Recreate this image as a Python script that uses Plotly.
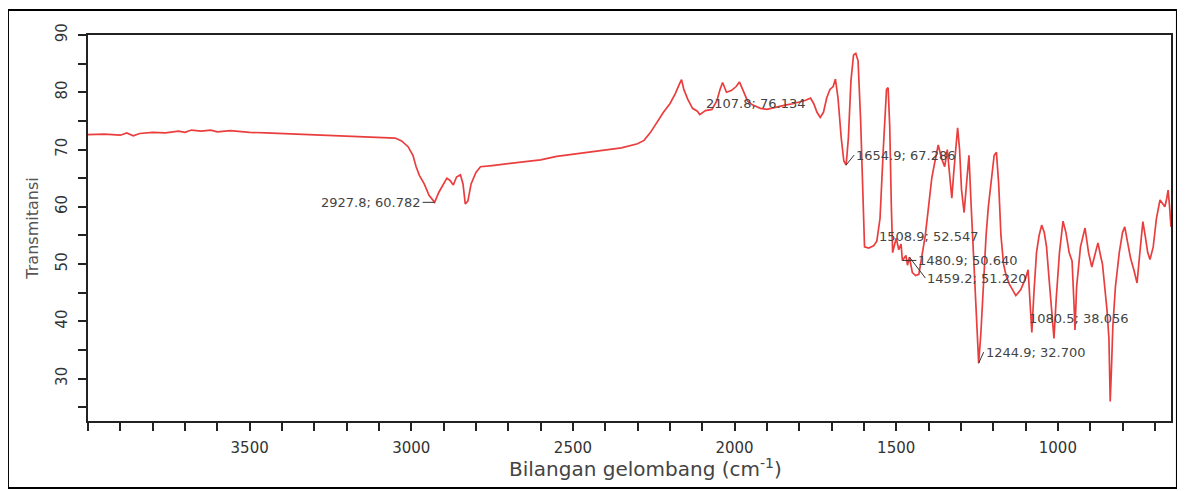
import plotly.graph_objects as go

# ---- data (wavenumber cm-1, transmittance) ----
wavenumber = [
    4000, 3950, 3900, 3880, 3860, 3840, 3800, 3760, 3720, 3700, 3680, 3650, 3620, 3600,
    3560, 3500, 3450, 3400, 3350, 3300, 3250, 3200, 3150, 3100, 3050, 3030, 3010, 2995,
    2985, 2975, 2960, 2945, 2927.8, 2915, 2900, 2890, 2880, 2870, 2860, 2848, 2840, 2833,
    2825, 2815, 2800, 2786, 2750, 2700, 2650, 2600, 2550, 2500, 2450, 2400, 2350, 2300,
    2280, 2260, 2240, 2220, 2200, 2183, 2170, 2164, 2157, 2145, 2130, 2115, 2107.8, 2090,
    2070, 2055, 2045, 2037, 2025, 2010, 1995, 1985, 1975, 1960, 1945, 1920, 1900, 1880,
    1860, 1840, 1820, 1800, 1780, 1765, 1755, 1745, 1735, 1725, 1715, 1705, 1695, 1688,
    1680, 1670, 1662, 1654.9, 1648, 1640, 1632, 1625, 1618, 1610, 1603, 1598, 1585, 1570,
    1560, 1550, 1540, 1530, 1525, 1520, 1515, 1511, 1508.9, 1500, 1492, 1485, 1480.9, 1470,
    1465, 1459.2, 1450, 1440, 1430, 1420, 1410, 1400, 1390, 1380, 1370, 1360, 1350, 1342,
    1335, 1328, 1322, 1316, 1310, 1304, 1298, 1290, 1282, 1275, 1268, 1260, 1252, 1244.9,
    1238, 1230, 1222, 1215, 1205, 1197, 1190, 1183, 1176, 1168, 1160, 1150, 1140, 1130,
    1115, 1100, 1092, 1086, 1080.5, 1074, 1066, 1058, 1050, 1042, 1035, 1028, 1020, 1012,
    1005, 995, 984, 975, 965, 956, 950, 947, 942, 930, 916, 905, 895, 885, 876, 868, 862,
    855, 848, 842, 838, 834, 830, 822, 810, 800, 793, 785, 775, 765, 755, 748, 742, 737,
    730, 722, 715, 705, 695, 684, 675, 669, 663, 659, 655, 650,
]
transmittance = [
    72.6, 72.7, 72.5, 72.9, 72.4, 72.8, 73.0, 72.9, 73.2, 73.0, 73.4, 73.2, 73.4, 73.1,
    73.3, 73.0, 72.9, 72.8, 72.7, 72.6, 72.5, 72.4, 72.3, 72.2, 72.0, 71.5, 70.5, 69.0,
    67.0, 65.5, 64.0, 62.0, 60.78, 62.5, 64.0, 65.0, 64.6, 63.8, 65.2, 65.6, 64.0, 60.5,
    61.0, 64.0, 66.0, 67.0, 67.2, 67.5, 67.8, 68.2, 68.8, 69.2, 69.6, 70.0, 70.3, 71.0,
    71.6, 73.0, 74.8, 76.5, 78.0, 79.8, 81.5, 82.2, 80.5, 78.8, 77.2, 76.7, 76.1, 76.8,
    77.0, 78.5, 80.5, 81.7, 80.0, 80.3, 81.0, 81.8, 80.5, 78.5, 77.8, 77.2, 77.0, 77.3,
    77.6, 77.8, 78.0, 78.3, 78.6, 79.0, 78.0, 76.5, 75.6, 76.5, 79.0, 80.5, 81.0, 82.3,
    79.0, 72.0, 68.0, 67.29, 72.0, 82.0, 86.5, 86.8, 85.5, 75.0, 60.0, 53.0, 52.8, 53.2,
    54.0, 58.0, 70.0, 80.5, 80.8, 74.0, 60.0, 52.0, 52.55, 54.5, 52.5, 53.5, 50.64, 51.5,
    49.8, 51.22, 48.5, 48.0, 48.2, 52.0, 55.0, 60.0, 65.0, 68.0, 70.8, 68.5, 67.0, 70.0,
    65.0, 61.5, 66.0, 70.0, 73.8, 70.0, 63.0, 59.0, 64.0, 69.0, 60.0, 50.0, 40.0, 32.7,
    38.0, 47.0, 55.0, 60.0, 65.0, 69.0, 69.5, 64.0, 55.0, 50.0, 48.0, 46.5, 45.5, 44.5,
    45.5, 47.5, 49.0, 44.0, 38.06, 45.0, 52.0, 55.0, 56.8, 55.5, 53.0, 48.0, 42.0, 37.0,
    44.0, 52.0, 57.5, 55.5, 52.0, 50.5, 43.0, 38.5, 46.0, 53.0, 56.3, 52.0, 49.5, 52.0,
    53.7, 51.5, 50.0, 46.0, 42.0, 37.0, 26.0, 32.0, 39.0, 46.0, 52.0, 55.5, 56.5, 54.0,
    51.0, 49.0, 46.7, 51.0, 55.0, 57.4, 55.0, 52.0, 50.8, 53.0, 58.0, 61.2, 60.5, 60.0,
    61.5, 62.9, 60.5, 56.5,
]

# labelled x ticks and y ticks
x_tick_vals = [3500, 3000, 2500, 2000, 1500, 1000]
y_tick_vals = [30, 40, 50, 60, 70, 80, 90]

# peak labels: (wavenumber, transmittance, text)
peak_wn = [2927.8, 2107.8, 1654.9, 1508.9, 1480.9, 1459.2, 1244.9, 1080.5]
peak_t = [60.78, 76.1, 67.29, 52.55, 50.64, 51.22, 32.7, 38.06]
peak_text = ["2927.8; 60.782", "2107.8; 76.134", "1654.9; 67.286", "1508.9; 52.547",
             "1480.9; 50.640", "1459.2; 51.220", "1244.9; 32.700", "1080.5; 38.056"]

x_title = "Bilangan gelombang (cm<sup>-1</sup>)"
y_title = "Transmitansi"

fig = go.Figure()
fig.add_trace(go.Scatter(
    x=wavenumber, y=transmittance, mode="lines",
    line=dict(color="rgb(234,62,62)", width=1.7),
    hoverinfo="x+y", showlegend=False,
))

label_font = dict(family="DejaVu Sans", size=13, color="#444")
# label placement (pixel offsets): (ax, ay, xanchor, arrow?)
offsets = [(-12, 0, "right", True), (4, -11, "left", False), (8, -10, "left", True),
           (-16, -13, "left", False), (14, 0, "left", True), (16, 21, "left", True),
           (5, -11, "left", True), (-5, -14, "left", False)]
for wn, t, txt, (ax, ay, xa, arr) in zip(peak_wn, peak_t, peak_text, offsets):
    if arr:
        fig.add_annotation(x=wn, y=t, text=txt, showarrow=True, arrowhead=0,
                           arrowwidth=1, arrowcolor="#333", ax=ax, ay=ay,
                           xanchor=xa, yanchor="middle", font=label_font)
    else:
        fig.add_annotation(x=wn, y=t, text=txt, showarrow=False,
                           xshift=ax, yshift=-ay, xanchor=xa, yanchor="middle",
                           font=label_font)

# x-axis title (placed as text so its centre matches the reference)
fig.add_annotation(xref="paper", yref="paper", x=0.515, y=-0.122, text=x_title,
                   showarrow=False, xanchor="center", yanchor="middle",
                   font=dict(family="DejaVu Sans", size=20, color="#444"))

# outer frame of the figure
fig.add_shape(type="rect", xref="paper", yref="paper",
              x0=-0.0739, x1=1.0055, y0=-0.1736, y1=1.0648,
              line=dict(color="black", width=2), fillcolor="rgba(0,0,0,0)")

tick_common = dict(ticks="outside", ticklen=8, tickwidth=1.5, tickcolor="#222",
                   showline=True, linecolor="#222", linewidth=1.5, mirror=True,
                   showgrid=False, zeroline=False, automargin=False)

fig.update_xaxes(
    range=[4000, 650], tickmode="array", tickvals=x_tick_vals,
    minor=dict(tickmode="linear", dtick=100, tick0=0, ticks="outside", ticklen=8,
               tickwidth=1.5, tickcolor="#222"),
    tickfont=dict(family="DejaVu Sans", size=15, color="#333"),
    ticklabelstandoff=4,
    **tick_common,
)
fig.update_yaxes(
    range=[22.6, 90], tickmode="array", tickvals=y_tick_vals, tickangle=-90,
    minor=dict(tickmode="linear", dtick=5, tick0=0, ticks="outside", ticklen=8,
               tickwidth=1.5, tickcolor="#222"),
    tickfont=dict(family="DejaVu Sans", size=15, color="#333"),
    ticklabelstandoff=5,
    title=dict(text=y_title, font=dict(family="DejaVu Sans", size=16, color="#555"), standoff=11),
    **tick_common,
)

# the page body adds an 8px offset, so the margins compensate for it
fig.update_layout(
    width=1185, height=491,
    margin=dict(l=80, r=22, t=27, b=78),
    paper_bgcolor="white", plot_bgcolor="white",
)

fig.write_html("out.html")
